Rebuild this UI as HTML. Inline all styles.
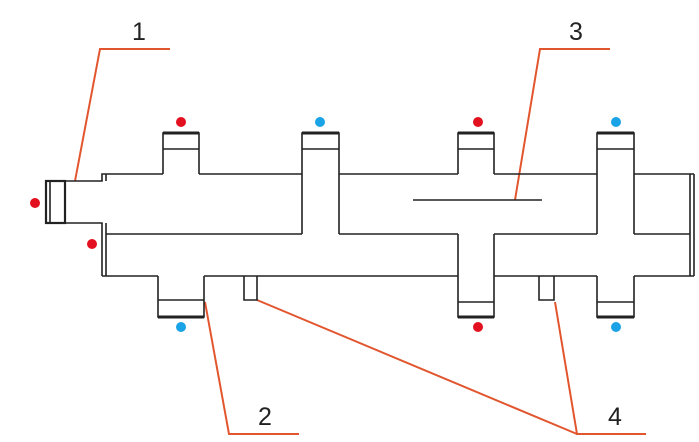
<!DOCTYPE html>
<html><head><style>body{margin:0;background:#fff}svg{display:block}</style></head><body>
<svg width="699" height="442" viewBox="0 0 699 442" xmlns="http://www.w3.org/2000/svg">
<g stroke="#e2562f" stroke-width="2" fill="none">
<polyline points="170,49 100,49 75,181"/>
<polyline points="610,49 540,49 515,200"/>
<polyline points="299,434 229,434 205,302"/>
<polyline points="646,434 577,434 555,302"/>
<line x1="577" y1="434" x2="257" y2="300"/>
</g>
<g font-family="Liberation Sans, sans-serif" font-size="25" fill="#222" text-anchor="middle">
<text x="139" y="40">1</text>
<text x="576" y="40">3</text>
<text x="265" y="425">2</text>
<text x="615" y="425">4</text>
</g>
<g stroke="#222" stroke-width="1.6" fill="none">
<!-- upper pipe top -->
<polyline points="65,181 102,181 102,174 163,174"/>
<line x1="199" y1="174" x2="302" y2="174"/>
<line x1="339" y1="174" x2="458" y2="174"/>
<line x1="494" y1="174" x2="597" y2="174"/>
<line x1="634" y1="174" x2="694" y2="174"/>
<!-- divider -->
<line x1="106" y1="234" x2="302" y2="234"/>
<line x1="339" y1="234" x2="458" y2="234"/>
<line x1="494" y1="234" x2="597" y2="234"/>
<line x1="634" y1="234" x2="690" y2="234"/>
<!-- bottom -->
<line x1="102" y1="276" x2="158" y2="276"/>
<line x1="204" y1="276" x2="458" y2="276"/>
<line x1="494" y1="276" x2="597" y2="276"/>
<line x1="634" y1="276" x2="694" y2="276"/>
<!-- left end -->
<polyline points="65,223 102,223 102,276"/>
<line x1="106" y1="223" x2="106" y2="276"/>
<line x1="106" y1="174" x2="106" y2="181"/>
<rect x="46" y="181" width="19" height="42" stroke-width="2.2"/>
<line x1="50" y1="181" x2="50" y2="223"/>
<!-- right end -->
<line x1="690" y1="174" x2="690" y2="276"/>
<line x1="694" y1="174" x2="694" y2="276"/>
<!-- top branches -->
<polyline points="163,174 163,133 199,133 199,174"/><line x1="163" y1="149" x2="199" y2="149"/>
<polyline points="302,234 302,133 339,133 339,234"/><line x1="302" y1="149" x2="339" y2="149"/>
<polyline points="458,174 458,133 494,133 494,174"/><line x1="458" y1="149" x2="494" y2="149"/>
<polyline points="597,234 597,133 634,133 634,234"/><line x1="597" y1="149" x2="634" y2="149"/>
<!-- bottom branches -->
<polyline points="158,276 158,317 204,317 204,276"/><line x1="158" y1="300" x2="204" y2="300"/>
<polyline points="458,234 458,317 494,317 494,234"/><line x1="458" y1="302" x2="494" y2="302"/>
<polyline points="597,276 597,317 634,317 634,276"/><line x1="597" y1="302" x2="634" y2="302"/>
<!-- tabs -->
<polyline points="244,276 244,300 257,300 257,276"/>
<polyline points="539,276 539,300 554,300 554,276"/>
<line x1="413" y1="200" x2="542" y2="200"/>
</g>
<g stroke="#222" stroke-width="3">
<line x1="163" y1="133" x2="199" y2="133"/><line x1="302" y1="133" x2="339" y2="133"/>
<line x1="458" y1="133" x2="494" y2="133"/><line x1="597" y1="133" x2="634" y2="133"/>
<line x1="158" y1="317" x2="204" y2="317"/><line x1="458" y1="317" x2="494" y2="317"/><line x1="597" y1="317" x2="634" y2="317"/>
</g>
<g fill="#e3101f">
<circle cx="181" cy="122" r="5"/><circle cx="478" cy="122" r="5"/>
<circle cx="35" cy="203" r="5"/><circle cx="92" cy="244" r="5"/><circle cx="478" cy="327" r="5"/>
</g>
<g fill="#1aa3e6">
<circle cx="320" cy="122" r="5"/><circle cx="616" cy="122" r="5"/>
<circle cx="181" cy="327" r="5"/><circle cx="616" cy="327" r="5"/>
</g>
</svg>
</body></html>
